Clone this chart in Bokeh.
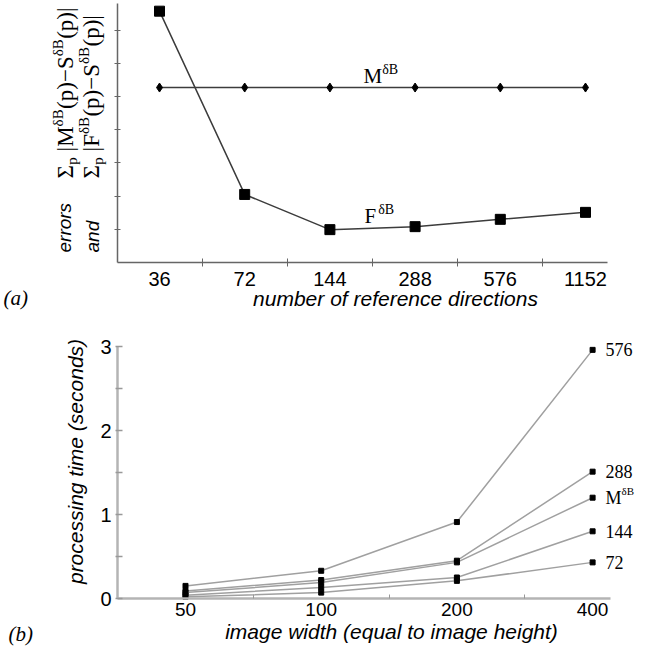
from bokeh.plotting import figure
from bokeh.models import FixedTicker, Label, Range1d, LinearAxis
from bokeh.embed import file_html
from bokeh.resources import INLINE

# ---------------- data ----------------
# panel (a)
dir_labels = ["36", "72", "144", "288", "576", "1152"]
err_F = [7.57, 2.05, 0.99, 1.08, 1.30, 1.51]
err_M = [5.27, 5.27, 5.27, 5.27, 5.27, 5.27]

# panel (b)
width_labels = ["50", "100", "200", "400"]
t_576 = [0.15, 0.33, 0.91, 2.96]
t_288 = [0.09, 0.22, 0.45, 1.51]
t_M = [0.07, 0.19, 0.43, 1.20]
t_144 = [0.04, 0.13, 0.25, 0.80]
t_72 = [0.02, 0.07, 0.21, 0.43]
series_main = ["576", "288", "M", "144", "72"]
series_sup = ["", "", "δB", "", ""]
series_vals = [t_576, t_288, t_M, t_144, t_72]

SANS = "Liberation Sans"
SERIF = "Liberation Serif"
PAGE_W = 646
PAGE_H = 650
MID = 0.31  # distance baseline -> em middle, in em
NBSP = "\u00a0"

# approximate Times metrics, used for placing sub/superscript pieces
W = {'Σ': 0.6, 'p': 0.5, ' ': 0.25, NBSP: 0.25, '|': 0.2, 'M': 0.889, 'F': 0.556,
     'δ': 0.5, 'B': 0.667, '(': 0.333, ')': 0.333, '−': 0.564, 'S': 0.556}


def tw(s, size):
    return sum(W.get(c, 0.5) for c in s) * size


# page pixel -> data helpers for the two panels
def ax(px):
    return (px - 159.0) / 85.2


def ay(py):
    return (262.0 - py) / 33.2


def bx(px):
    return (px - 185.0) / 135.7


def by(py):
    return (598.0 - py) / 84.0


p = figure(width=PAGE_W, height=PAGE_H, x_range=Range1d(ax(0), ax(PAGE_W)),
           y_range=Range1d(ay(PAGE_H), ay(0)), output_backend="svg", toolbar_location=None,
           min_border=0, min_border_left=0, min_border_right=0, min_border_top=0,
           min_border_bottom=0)
p.extra_x_ranges = {"b": Range1d(bx(0), bx(PAGE_W))}
p.extra_y_ranges = {"b": Range1d(by(PAGE_H), by(0))}
p.outline_line_color = None
p.xgrid.grid_line_color = None
p.ygrid.grid_line_color = None
p.background_fill_color = "white"
p.border_fill_color = "white"


def lab(panel, px, py_base, text, font, size, style="normal", align="left", angle=0):
    """Text whose baseline sits at page pixel py_base (or x=px for rotated text)."""
    if angle == 0:
        mx, my = px, py_base - MID * size
    else:
        mx, my = px - MID * size, py_base
    if panel == "a":
        fx, fy, kw = ax, ay, {}
    else:
        fx, fy, kw = bx, by, {"x_range_name": "b", "y_range_name": "b"}
    p.add_layout(Label(x=fx(mx), y=fy(my), text=text, text_font=font,
                       text_font_size=f"{size}px", text_font_style=style,
                       text_align=align, text_baseline="middle", angle=angle,
                       angle_units="deg", text_color="black", **kw))


# ---------------- panel (a) ----------------
xa = list(range(len(dir_labels)))

xax = p.xaxis[0]
xax.fixed_location = 0
xax.bounds = (ax(117), ax(607))
xax.ticker = FixedTicker(ticks=xa, minor_ticks=[i + 0.5 for i in range(len(xa) - 1)])
xax.major_label_overrides = {i: s for i, s in enumerate(dir_labels)}
xax.major_tick_in = 0
xax.major_tick_out = 0
xax.minor_tick_in = 4
xax.minor_tick_out = 4
xax.minor_tick_line_color = "#666666"
xax.axis_line_color = "#666666"
xax.axis_line_width = 1.5
xax.major_label_standoff = 5
xax.major_label_text_font = SANS
xax.major_label_text_font_size = "20px"
xax.major_label_text_color = "black"

yax = p.yaxis[0]
yax.fixed_location = ax(117)
yax.bounds = (0, ay(3))
yax.ticker = FixedTicker(ticks=[1, 2, 3, 4, 5, 6, 7])
yax.major_label_overrides = {i: "" for i in range(1, 8)}
yax.major_tick_in = 3
yax.major_tick_out = 3
yax.major_tick_line_color = "#666666"
yax.axis_line_color = "#666666"
yax.axis_line_width = 1.5

p.line(xa, err_F, line_color="#3c3c3c", line_width=1.5)
p.scatter(xa, err_F, marker="square", size=10, color="black")
p.line(xa, err_M, line_color="#3c3c3c", line_width=1.5)
p.scatter(xa, err_M, marker="diamond", size=9, color="black")

# in-plot series labels
lab("a", 363, 82, "M", SERIF, 21)
lab("a", 363 + tw("M", 21), 73, "δB", SERIF, 14)
lab("a", 364, 222, "F", SERIF, 21)
lab("a", 366 + tw("F", 21), 213, "δB", SERIF, 14)

# x title and panel tag
lab("a", 395, 305, "number of reference directions", SANS, 21, "italic", "center")
lab("a", 3, 304, "(a)", SERIF, 21, "italic")

# rotated y label
lab("a", 70, 252, "errors", SANS, 19, "italic", angle=90)
lab("a", 98, 252, "and", SANS, 19, "italic", angle=90)


def rot_formula(base_x, start_y, letter):
    segs = [("Σ", 23, 0), ("p", 15, 4), (NBSP + "|" + letter, 23, 0), ("δB", 15, -10),
            ("(p)−S", 23, 0), ("δB", 15, -10), ("(p)|", 23, 0)]
    pos = start_y
    for text, size, shift in segs:
        lab("a", base_x + shift, pos, text, SERIF, size, angle=90)
        pos -= tw(text, size)


rot_formula(72, 178, "M")
rot_formula(98, 178, "F")

# ---------------- panel (b) ----------------
xb = list(range(len(width_labels)))

bxa = LinearAxis(x_range_name="b", y_range_name="b")
bxa.fixed_location = 0
bxa.bounds = (bx(117), bx(610))
bxa.ticker = FixedTicker(ticks=xb, minor_ticks=[i + 0.5 for i in range(len(xb) - 1)])
bxa.major_label_overrides = {i: s for i, s in enumerate(width_labels)}
bxa.major_tick_in = 0
bxa.major_tick_out = 0
bxa.minor_tick_in = 4
bxa.minor_tick_out = 0
bxa.minor_tick_line_color = "#999999"
bxa.axis_line_color = "#b4b4b4"
bxa.axis_line_width = 2.5
bxa.major_label_standoff = 4
bxa.major_label_text_font = SANS
bxa.major_label_text_font_size = "19px"
bxa.major_label_text_color = "black"
p.add_layout(bxa, "below")

y_ticks_b = [0, 0.5, 1, 1.5, 2, 2.5, 3]
y_labels_b = ["0", "", "1", "", "2", "", "3"]
bya = LinearAxis(x_range_name="b", y_range_name="b")
bya.fixed_location = bx(117)
bya.bounds = (0, 3)
bya.ticker = FixedTicker(ticks=y_ticks_b)
bya.major_label_overrides = {t: s for t, s in zip(y_ticks_b, y_labels_b)}
bya.major_tick_in = 5
bya.major_tick_out = 2
bya.major_tick_line_color = "#999999"
bya.major_tick_line_width = 1.5
bya.axis_line_color = "#b4b4b4"
bya.axis_line_width = 2.5
bya.major_label_standoff = 4
bya.major_label_text_font = SANS
bya.major_label_text_font_size = "20px"
bya.major_label_text_color = "black"
p.add_layout(bya, "left")

for vals in series_vals:
    p.line(xb, vals, line_color="#a0a0a0", line_width=1.5, x_range_name="b", y_range_name="b")
    p.scatter(xb, vals, marker="square", size=5, color="black",
              x_range_name="b", y_range_name="b")

for name, sup, vals in zip(series_main, series_sup, series_vals):
    p.add_layout(Label(x=xb[-1], y=vals[-1], x_offset=13, text=name, text_font=SERIF,
                       text_font_size="18px", text_baseline="middle", text_align="left",
                       text_color="black", x_range_name="b", y_range_name="b"))
    if sup:
        p.add_layout(Label(x=xb[-1], y=vals[-1] + 7 / 84.0, x_offset=13 + tw(name, 18),
                           text=sup, text_font=SERIF, text_font_size="11px",
                           text_baseline="middle", text_align="left", text_color="black",
                           x_range_name="b", y_range_name="b"))

lab("b", 391, 638, "image width (equal to image height)", SANS, 21, "italic", "center")
lab("b", 82, 461, "processing time (seconds)", SANS, 21, "italic", "center", angle=90)
lab("b", 8, 640, "(b)", SERIF, 21, "italic")

open("out.html", "w").write(file_html(p, INLINE))
